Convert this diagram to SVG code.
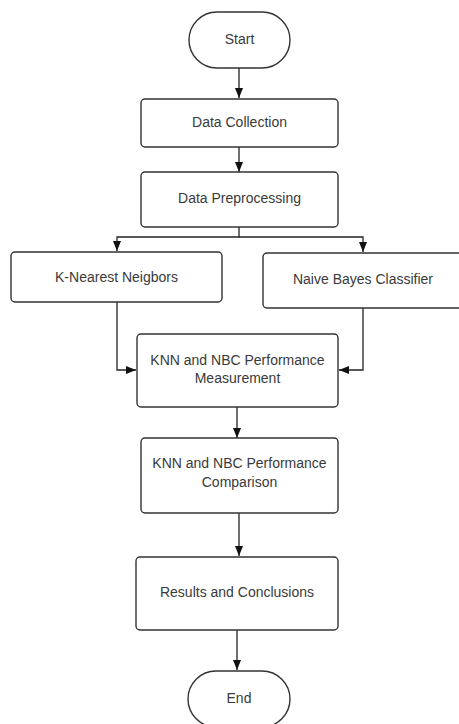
<svg xmlns="http://www.w3.org/2000/svg" width="459" height="724" viewBox="0 0 459 724">
<defs>
<marker id="arr" viewBox="0 0 10 8" refX="10" refY="4" markerWidth="10" markerHeight="8" markerUnits="userSpaceOnUse" orient="auto">
<path d="M0,0 L10,4 L0,8 z" fill="#111"/>
</marker>
<style>
.box{fill:#fff;stroke:#333;stroke-width:1.4}
.t{font-family:"Liberation Sans",Arial,sans-serif;font-size:14px;fill:#3a3a3a;text-anchor:middle}
.c{fill:none;stroke:#222;stroke-width:1.3;marker-end:url(#arr)}
</style>
</defs>
<rect width="459" height="724" fill="#fff"/>
<g id="connectors">
<path class="c" d="M239,68 V98"/>
<path class="c" d="M239,147 V172"/>
<path class="c" d="M239,227 V237 H117 V251"/>
<path class="c" d="M239,237 H363 V252"/>
<path class="c" d="M117,302 V370 H136"/>
<path class="c" d="M363,308 V370 H339"/>
<path class="c" d="M237,407 V438"/>
<path class="c" d="M239,513 V556"/>
<path class="c" d="M237,630 V670"/>
</g>
<g id="start">
<rect class="box" x="189" y="12" width="101" height="56" rx="28"/>
<text class="t" x="239.5" y="44">Start</text>
</g>
<g id="data-collection">
<rect class="box" x="141" y="99" width="197" height="48" rx="4"/>
<text class="t" x="239.5" y="127">Data Collection</text>
</g>
<g id="data-preprocessing">
<rect class="box" x="141" y="172" width="197" height="55" rx="4"/>
<text class="t" x="239.5" y="203">Data Preprocessing</text>
</g>
<g id="knn">
<rect class="box" x="11" y="252" width="211" height="50" rx="4"/>
<text class="t" x="116.5" y="282">K-Nearest Neigbors</text>
</g>
<g id="nbc">
<rect class="box" x="263" y="253" width="200" height="55" rx="4"/>
<text class="t" x="363" y="284">Naive Bayes Classifier</text>
</g>
<g id="measurement">
<rect class="box" x="137" y="334" width="201" height="73" rx="4"/>
<text class="t" x="237.5" y="365">KNN and NBC Performance</text>
<text class="t" x="237.5" y="383">Measurement</text>
</g>
<g id="comparison">
<rect class="box" x="141" y="438" width="197" height="75" rx="4"/>
<text class="t" x="239.5" y="468">KNN and NBC Performance</text>
<text class="t" x="239.5" y="487">Comparison</text>
</g>
<g id="results">
<rect class="box" x="136" y="557" width="202" height="73" rx="4"/>
<text class="t" x="237" y="597">Results and Conclusions</text>
</g>
<g id="end">
<rect class="box" x="188" y="671" width="102" height="56" rx="28"/>
<text class="t" x="239" y="703">End</text>
</g>
</svg>
